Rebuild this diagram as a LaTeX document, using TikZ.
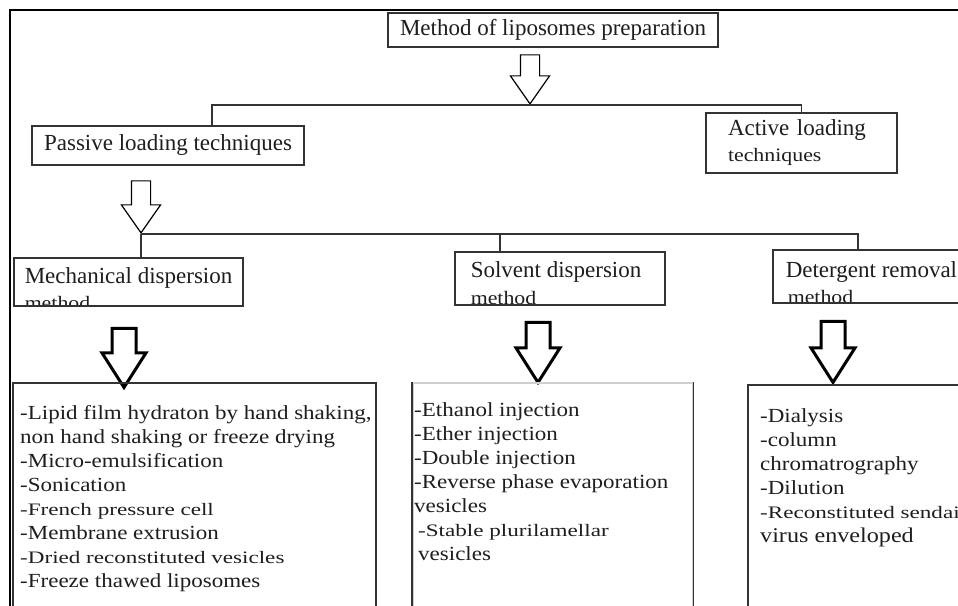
\documentclass[tikz,border=0pt]{standalone}
\usepackage{fontspec}
\setmainfont{Liberation Serif}
\newfontfamily\listfont[FakeStretch=1.15]{Liberation Serif}
\newfontfamily\thinlistfont[FakeStretch=1.32]{Liberation Serif}
\usetikzlibrary{shapes.arrows,positioning}
\definecolor{BoxLine}{HTML}{333333}
\definecolor{FaintLine}{HTML}{CFCFCF}
\definecolor{InkText}{HTML}{1E1E1E}
\newcommand{\bigtxt}{\fontsize{23}{26}\selectfont}
\newcommand{\subtxt}{\listfont\fontsize{19}{22}\selectfont}
\newcommand{\itemtxt}{\listfont\fontsize{20}{24}\selectfont}
\newcommand{\thintxt}{\thinlistfont\fontsize{17.5}{24}\selectfont}

\tikzset{
  box/.style={draw=BoxLine,line width=1.5pt,fill=white,inner sep=0pt,text=InkText,font=\bigtxt},
  boxline/.style={inner sep=0pt,minimum width=0pt,minimum height=0pt,draw=none,fill=none,anchor=base west,text=InkText},
  listbox/.style={draw=BoxLine,line width=1.5pt,inner sep=0pt,anchor=north west},
  listtext/.style={inner sep=0pt,align=left,anchor=north west,text=InkText,font=\itemtxt},
  thinarrow/.style={single arrow,draw=black,line width=1.2pt,fill=white,rotate=-90,inner xsep=0pt,inner ysep=9pt,
    minimum width=38pt,single arrow head extend=10pt,single arrow tip angle=70},
  heavyarrow/.style={single arrow,draw=black,line width=3pt,fill=white,rotate=-90,inner xsep=0pt,inner ysep=10.5pt,
    minimum width=41pt,single arrow head extend=10pt,single arrow tip angle=65},
  tree/.style={draw=BoxLine,line width=1.5pt},
}

\begin{document}
\begin{tikzpicture}[x=1pt,y=-1pt]
  \useasboundingbox (0,0) rectangle (958,605);
  \clip (0,0) rectangle (958,605);
  \fill[white] (0,0) rectangle (958,605);
  % outer frame, cut off at right and bottom
  \draw[black,line width=1.4pt] (10,610) -- (10,10) -- (960,10);

  % top level
  \node[box,minimum width=330pt,minimum height=34pt] (title) at (553,30) {Method of liposomes preparation};
  \node[thinarrow,minimum height=49pt] (arr1) at (530,72.5) {};
  \node[box,minimum width=272pt,minimum height=39pt] (passive) at (168,145.5) {Passive loading techniques};
  \node[box,minimum width=191pt,minimum height=60pt,align=left,text width=147pt] (active) at (801.5,143)
    {Active loading\\{\subtxt techniques}};
  \draw[tree] (arr1.tip) -| ([xshift=44pt]passive.north);
  \draw[tree] (arr1.tip) -| (active.north);

  % passive loading branches, second lines cut by the box edge
  \node[thinarrow,minimum height=52pt] (arr2) at (141,200) {};
  \node[box,minimum width=229pt,minimum height=48pt,path picture={
      \node[boxline,font=\bigtxt] (mechhead) at ([xshift=10pt,yshift=-25pt]path picture bounding box.north west) {Mechanical dispersion};
      \node[boxline,font=\subtxt] (mechtail) at ([xshift=10pt,yshift=-51pt]path picture bounding box.north west) {method};
    }] (mech) at (128.5,282) {};
  \node[box,minimum width=210pt,minimum height=53pt,path picture={
      \node[boxline,font=\bigtxt] (solvhead) at ([xshift=15pt,yshift=-25pt]path picture bounding box.north west) {Solvent dispersion};
      \node[boxline,font=\subtxt] (solvtail) at ([xshift=15pt,yshift=-52pt]path picture bounding box.north west) {method};
    }] (solv) at (560,278.5) {};
  \node[box,minimum width=202pt,minimum height=53pt,path picture={
      \node[boxline,font=\bigtxt] (dethead) at ([xshift=12pt,yshift=-27pt]path picture bounding box.north west) {Detergent removal};
      \node[boxline,font=\subtxt] (dettail) at ([xshift=14pt,yshift=-53pt]path picture bounding box.north west) {method};
    }] (det) at (874,276.5) {};
  \draw[tree] (arr2.tip) -- (arr2.tip |- mech.north);
  \draw[tree] (arr2.tip) -| ([xshift=-60pt]solv.north);
  \draw[tree] (arr2.tip) -| ([xshift=-16pt]det.north);

  \node[heavyarrow,minimum height=59pt] (arr3) at (124,348.5) {};
  \node[heavyarrow,minimum height=60pt] (arr4) at (538,343) {};
  \node[heavyarrow,minimum height=61pt] (arr5) at (833,342.5) {};

  % lists
  \node[listbox,minimum width=363pt,minimum height=240pt] (mechlist) at (12,382) {};
  \node[listtext] (mechitems) at (20,405) {-Lipid film hydraton by hand shaking,\\
    non hand shaking or freeze drying\\-Micro-emulsification\\-Sonication\\
    {\thintxt -French pressure cell}\\-Membrane extrusion\\{\thintxt -Dried reconstituted vesicles}\\
    -Freeze thawed liposomes};

  \node[listbox,draw=FaintLine,minimum width=280pt,minimum height=240pt] (solvlist) at (412,382) {};
  \draw[tree] (solvlist.north west) -- (solvlist.south west);
  \draw[tree] (solvlist.north east) -- (solvlist.south east);
  \node[listtext] (solvitems) at (414,402) {-Ethanol injection\\-Ether injection\\-Double injection\\
    -Reverse phase evaporation\\vesicles\\
    \hspace{4pt}{\thintxt -Stable plurilamellar}\\\hspace{4pt}vesicles};

  \node[listbox,minimum width=230pt,minimum height=240pt] (detlist) at (747,384) {};
  \node[listtext] (detitems) at (760,408) {-Dialysis\\-column\\chromatrography\\-Dilution\\
    {\thintxt -Reconstituted sendai}\\{\fontsize{21}{24}\selectfont virus enveloped}};
\end{tikzpicture}
\end{document}
